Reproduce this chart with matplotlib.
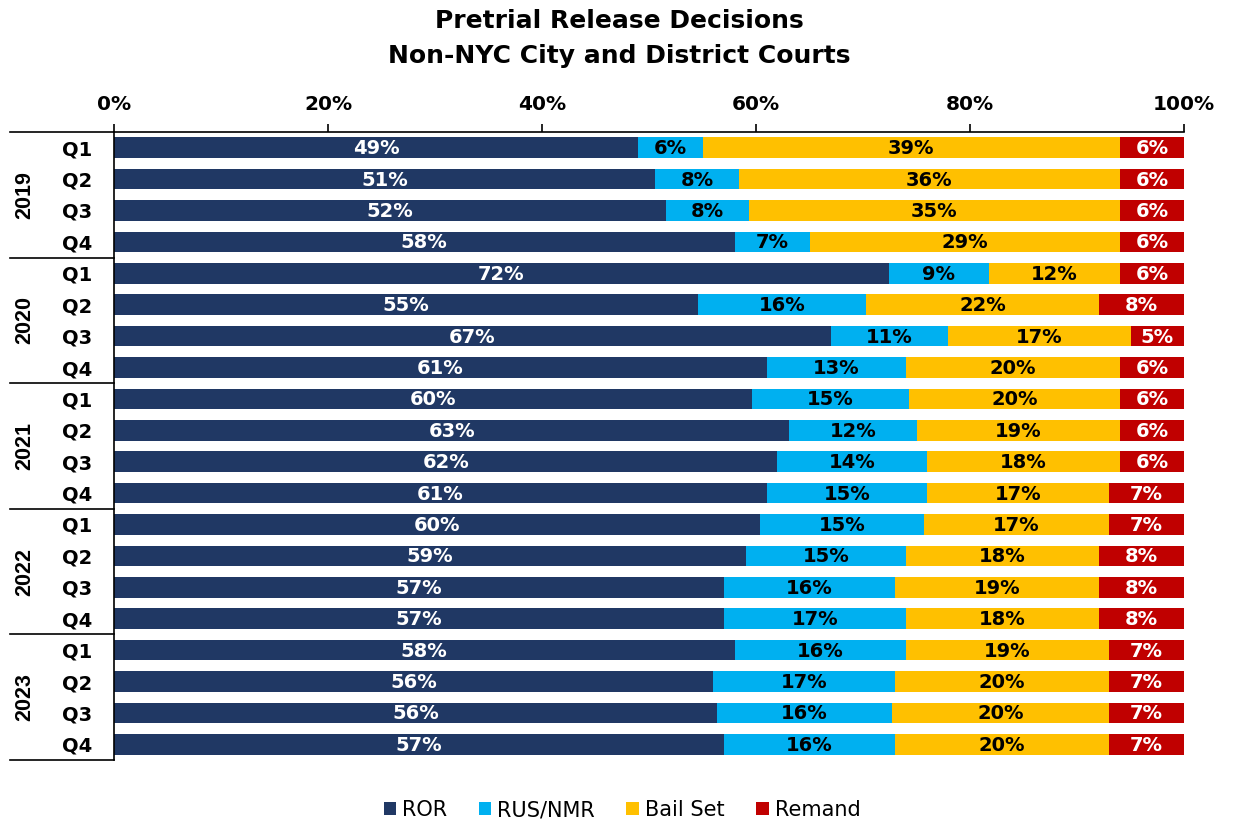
import matplotlib
matplotlib.use("Agg")
import matplotlib.pyplot as plt
from matplotlib.lines import Line2D
from matplotlib.patches import Patch
import numpy as np

plt.rcParams['font.family'] = ['DejaVu Sans']

years = ["2019", "2020", "2021", "2022", "2023"]
quarters = ["Q1", "Q2", "Q3", "Q4"]
series = ["ROR", "RUS/NMR", "Bail Set", "Remand"]

ror = [49.0, 50.6, 51.6, 58.0,
       72.4, 54.6, 67.0, 61.0,
       59.6, 63.1, 62.0, 61.0,
       60.4, 59.1, 57.0, 57.0,
       58.0, 56.0, 56.4, 57.0]
rus = [6.0, 7.8, 7.7, 7.0,
       9.4, 15.7, 10.9, 13.0,
       14.7, 11.9, 14.0, 15.0,
       15.3, 14.9, 16.0, 17.0,
       16.0, 17.0, 16.3, 16.0]
bail = [39.0, 35.6, 34.7, 29.0,
        12.2, 21.8, 17.1, 20.0,
        19.7, 19.0, 18.0, 17.0,
        17.3, 18.1, 19.1, 18.1,
        19.0, 20.0, 20.3, 20.0]
remand = [6.0, 6.0, 6.0, 6.0,
          6.0, 7.9, 5.0, 6.0,
          6.0, 6.0, 6.0, 7.0,
          7.0, 7.9, 7.9, 7.9,
          7.0, 7.0, 7.0, 7.0]

colors = ["#203864", "#00B0F0", "#FFC000", "#C00000"]
text_colors = ["white", "black", "black", "white"]

W, H = 1233, 822
fig = plt.figure(figsize=(W / 100, H / 100), dpi=100)
ax = fig.add_axes([114 / W, 1 - 760 / H, (1184 - 114) / W, (760 - 132) / H])

n = len(ror)
y = np.arange(n)
left = np.zeros(n)
for vals, c, tc in zip([ror, rus, bail, remand], colors, text_colors):
    vals = np.array(vals)
    ax.barh(y, vals, left=left, height=0.66, color=c, edgecolor='none')
    for yi, (l, v) in enumerate(zip(left, vals)):
        ax.text(l + v / 2, yi + 0.03, f"{round(v)}%", ha='center', va='center',
                color=tc, fontsize=14, fontweight='bold')
    left = left + vals

ax.set_xlim(0, 100)
ax.set_ylim(n - 0.5, -0.5)
ax.xaxis.tick_top()
ax.set_xticks(np.arange(0, 101, 20))
ax.set_xticklabels([f"{v}%" for v in range(0, 101, 20)], fontsize=14.5, fontweight='bold')
ax.tick_params(axis='x', length=6, width=1.2, pad=7, direction='out')
ax.set_yticks(y)
ax.set_yticklabels(quarters * len(years), fontsize=14, fontweight='bold')
ax.tick_params(axis='y', length=0, pad=16)
for s in ['right', 'bottom']:
    ax.spines[s].set_visible(False)
ax.spines['left'].set_linewidth(1.2)
ax.spines['top'].set_linewidth(1.2)

# group separators and year labels in left area
x_left = (10 - 114) / (1184 - 114)
trans = ax.get_yaxis_transform()
for gi, yr in enumerate(years):
    top = gi * 4 - 0.5
    bot = gi * 4 + 3.5
    ax.add_line(Line2D([x_left, 0], [top, top], transform=trans, color='black',
                       lw=1.2, clip_on=False))
    if gi == len(years) - 1:
        ax.add_line(Line2D([x_left, 0], [bot, bot], transform=trans, color='black',
                           lw=1.2, clip_on=False))
    ax.text((25 - 114) / (1184 - 114), gi * 4 + 1.5, yr, transform=trans,
            rotation=90, ha='center', va='center', fontsize=15.5, fontweight='bold',
            family=['Liberation Sans', 'DejaVu Sans'])

fig.text(0.502, 1 - 21 / H, "Pretrial Release Decisions",
         ha='center', va='center', fontsize=18, fontweight='bold')
fig.text(0.502, 1 - 56 / H, "Non-NYC City and District Courts",
         ha='center', va='center', fontsize=18, fontweight='bold')

handles = [Patch(facecolor=c, edgecolor='none') for c in colors]
fig.legend(handles, series, loc='center', bbox_to_anchor=(622 / W, 1 - 810 / H),
           ncol=4, frameon=False, fontsize=15, handlelength=0.6, handleheight=0.6,
           handletextpad=0.3, columnspacing=1.5)

fig.savefig("out.png", dpi=100)
